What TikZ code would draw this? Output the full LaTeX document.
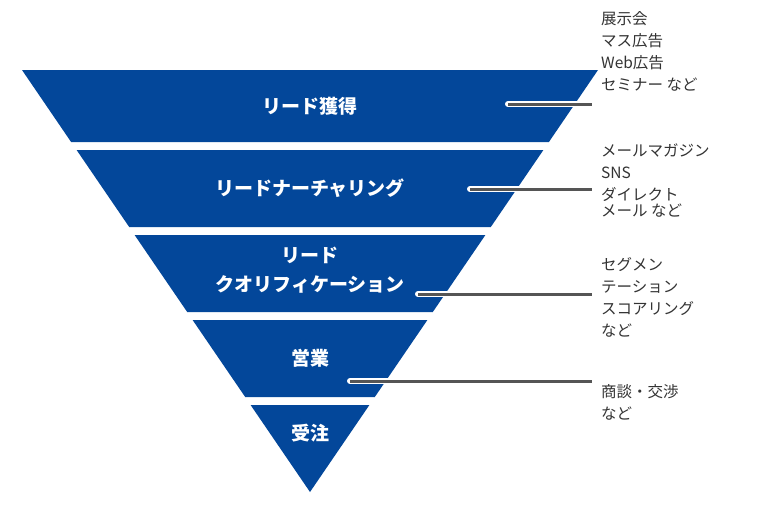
\documentclass[tikz,border=0pt]{standalone}
\usepackage{fontspec}
\setmainfont{Noto Sans CJK JP}
\begin{document}
\begin{tikzpicture}[x=1pt,y=-1pt,
  band/.style={fill=funnelblue,draw=none},
  ttl/.style={text=white,font=\fontsize{19}{22}\selectfont\bfseries,align=center},
  lbl/.style={text=labelgray,font=\fontsize{15.5}{22}\selectfont,anchor=north west,align=left,inner sep=0pt},
  halo/.style={draw=white,line width=6pt,line cap=round},
  lead/.style={draw=linegray,line width=3pt}]
\definecolor{funnelblue}{HTML}{03479A}
\definecolor{labelgray}{HTML}{333333}
\definecolor{linegray}{HTML}{555555}
\useasboundingbox (0,0) rectangle (760,520);
\fill[band] (22,70) -- (598,70) -- (548.9,142) -- (71.1,142) -- cycle;
\fill[band] (76.6,150) -- (543.4,150) -- (490.8,227) -- (129.2,227) -- cycle;
\fill[band] (134.6,235) -- (485.4,235) -- (432.8,312) -- (187.2,312) -- cycle;
\fill[band] (192.6,320) -- (427.4,320) -- (374.8,397) -- (245.2,397) -- cycle;
\fill[band] (250.6,405) -- (369.4,405) -- (310,492) -- cycle;
\node[ttl] (t1) at (310,106) {リード獲得};
\node[ttl] (t2) at (310,188) {リードナーチャリング};
\node[ttl,font=\fontsize{19}{29}\selectfont\bfseries] (t3) at (310,270) {リード\\クオリフィケーション};
\node[ttl] (t4) at (310,358) {営業};
\node[ttl] (t5) at (310,433) {受注};
\coordinate (a1) at (508,104); \coordinate (b1) at (592,104);
\coordinate (a2) at (470,189); \coordinate (b2) at (592,189);
\coordinate (a3) at (418,294); \coordinate (b3) at (592,294);
\coordinate (a4) at (350,381); \coordinate (b4) at (592,381);
\foreach \i in {1,2,3,4}{\draw[halo] (a\i) -- (b\i);}
\foreach \i in {1,2,3,4}{\draw[lead] (a\i) -- (b\i);}
\node[lbl] (l1) at (601,11) {展示会\\マス広告\\Web広告\\セミナー など};
\node[lbl] (l2) at (601,144) {メールマガジン\\SNS\\ダイレクト\\[-6pt]メール など};
\node[lbl] (l3) at (601,257) {セグメン\\テーション\\スコアリング\\など};
\node[lbl] (l4) at (601,384) {商談・交渉\\など};
\end{tikzpicture}
\end{document}
